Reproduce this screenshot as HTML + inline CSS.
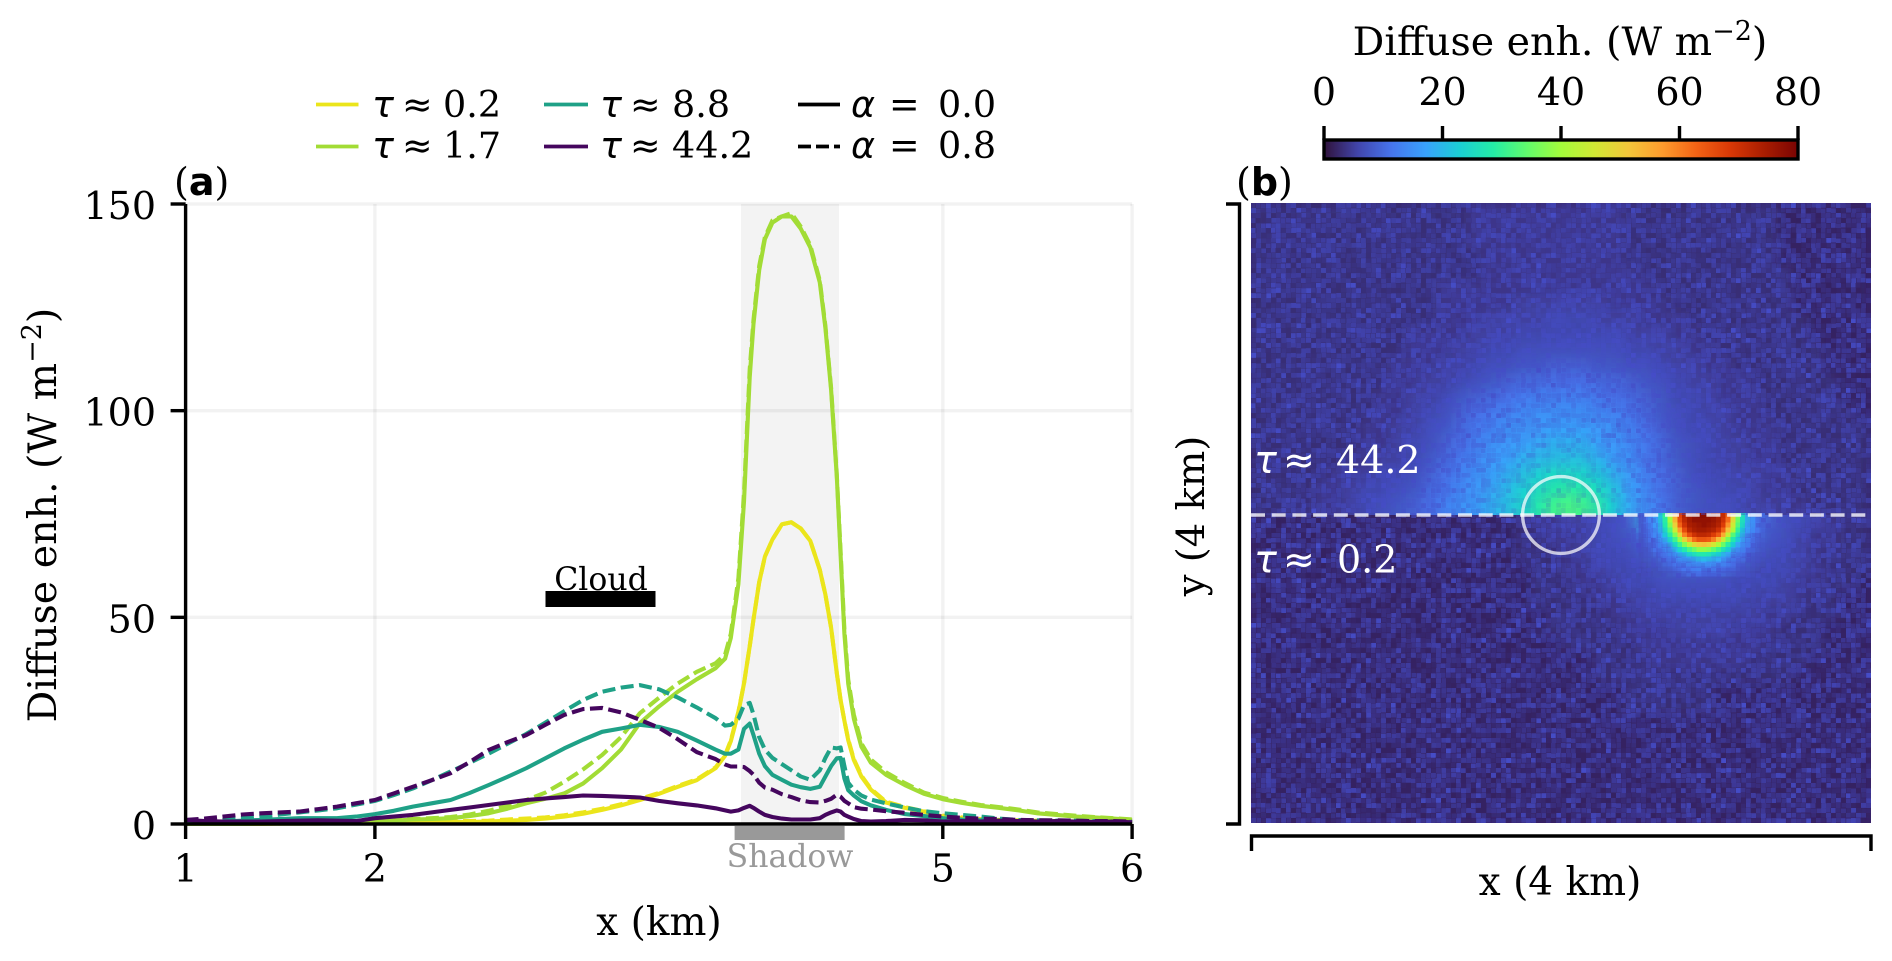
<!DOCTYPE html>
<html lang="en">
<head>
<meta charset="utf-8">
<title>Diffuse enhancement chart</title>
<style>
html,body{margin:0;padding:0;background:#fff;}
svg{display:block;}
text{font-family:"DejaVu Serif","Liberation Serif",serif;fill:#000;}
.math{font-family:"DejaVu Sans","Liberation Sans",sans-serif;font-style:italic;}
.sym{font-family:"DejaVu Sans","Liberation Sans",sans-serif;}
.bold{font-family:"DejaVu Sans","Liberation Sans",sans-serif;font-weight:bold;}
</style>
</head>
<body>
<svg id="chart" xmlns="http://www.w3.org/2000/svg" width="1892" height="961" viewBox="0 0 1892 961">
  <defs>
    <clipPath id="clip-upper"><rect x="1251" y="203" width="620" height="312"/></clipPath>
    <clipPath id="clip-lower"><rect x="1251" y="515" width="620" height="308"/></clipPath>
    <filter id="smooth" filterUnits="userSpaceOnUse" x="1200" y="150" width="720" height="730"><feGaussianBlur stdDeviation="6"/></filter>
    <filter id="grain" filterUnits="userSpaceOnUse" x="1251" y="203" width="620" height="620" primitiveUnits="userSpaceOnUse" color-interpolation-filters="sRGB">
      <feTurbulence type="fractalNoise" baseFrequency="0.73" numOctaves="2" seed="7" result="noise"/>
      <feColorMatrix in="noise" type="matrix" values="0 0 0 0 0.27  0 0 0 0 0.3  0 0 0 0 0.78  2.6 0 0 0 -1.2" result="tint"/>
      <feFlood x="1253" y="205" width="1" height="1" flood-color="#fff"/>
      <feComposite x="1251" y="203" width="5" height="5"/>
      <feTile x="1251" y="203" width="620" height="620" result="dots"/>
      <feComposite in="tint" in2="dots" operator="in"/>
      <feMorphology operator="dilate" radius="2"/>
    </filter>
    <radialGradient id="hole-gradient">
      <stop offset="0.72" stop-color="#000"/>
      <stop offset="1" stop-color="#000" stop-opacity="0"/>
    </radialGradient>
    <radialGradient id="glow-gradient">
      <stop offset="0.3" stop-color="#000" stop-opacity="0.7"/>
      <stop offset="1" stop-color="#000" stop-opacity="0"/>
    </radialGradient>
    <mask id="grain-mask" maskUnits="userSpaceOnUse" x="1251" y="203" width="620" height="620">
      <rect x="1251" y="203" width="620" height="620" fill="#fff"/>
      <g clip-path="url(#clip-lower)"><circle cx="1703" cy="515" r="56" fill="url(#hole-gradient)"/></g>
      <g clip-path="url(#clip-upper)"><circle cx="1561" cy="515" r="170" fill="url(#glow-gradient)"/></g>
    </mask>
    <linearGradient id="turbo-gradient" x1="0" x2="1" y1="0" y2="0"></linearGradient>
  </defs>

  <g id="panel-a">
    <rect x="741" y="204" width="98" height="620" fill="#f3f3f3"/>
    <g id="grid"></g>
    <g id="curves"></g>
    <rect x="545.5" y="591" width="110" height="16" fill="#000"/>
    <text x="601" y="590" font-size="31.5" text-anchor="middle">Cloud</text>
    <rect x="734.6" y="826" width="110" height="14" fill="#999"/>
    <text x="790" y="867" font-size="31.5" text-anchor="middle" style="fill:#999">Shadow</text>
    <g id="axes-a" stroke="#000" stroke-width="3.4"></g>
    <text x="659" y="935" font-size="39" text-anchor="middle">x (km)</text>
    <text font-size="39.5" text-anchor="middle" transform="translate(56,515) rotate(-90)">Diffuse enh. (W m<tspan font-size="27" dy="-15">−2</tspan><tspan dy="15">)</tspan></text>
    <text x="174" y="195" font-size="38">(<tspan class="bold">a</tspan>)</text>
  </g>

  <g id="legend">
    <g>
      <line x1="316" x2="358.5" y1="104.5" y2="104.5" stroke="#ebe51b" stroke-width="3.8"/>
      <text x="372" y="117" font-size="36.5"><tspan class="math">τ</tspan><tspan class="sym" x="402">≈</tspan><tspan x="443">0.2</tspan></text>
    </g>
    <g>
      <line x1="316" x2="358.5" y1="146.5" y2="146.5" stroke="#a2dc35" stroke-width="3.8"/>
      <text x="372" y="158" font-size="36.5"><tspan class="math">τ</tspan><tspan class="sym" x="402">≈</tspan><tspan x="443">1.7</tspan></text>
    </g>
    <g>
      <line x1="544" x2="588" y1="104.5" y2="104.5" stroke="#1fa187" stroke-width="3.8"/>
      <text x="600" y="117" font-size="36.5"><tspan class="math">τ</tspan><tspan class="sym" x="630">≈</tspan><tspan x="672">8.8</tspan></text>
    </g>
    <g>
      <line x1="544" x2="588" y1="146.5" y2="146.5" stroke="#45065e" stroke-width="3.8"/>
      <text x="600" y="158" font-size="36.5"><tspan class="math">τ</tspan><tspan class="sym" x="630">≈</tspan><tspan x="672">44.2</tspan></text>
    </g>
    <g>
      <line x1="798" x2="840" y1="104.5" y2="104.5" stroke="#000" stroke-width="3.8"/>
      <text x="851" y="117" font-size="36.5"><tspan class="math">α</tspan><tspan class="sym" x="889">=</tspan><tspan x="938">0.0</tspan></text>
    </g>
    <g>
      <line x1="798" x2="840" y1="146.5" y2="146.5" stroke="#000" stroke-width="3.8" stroke-dasharray="13 5"/>
      <text x="851" y="158" font-size="36.5"><tspan class="math">α</tspan><tspan class="sym" x="889">=</tspan><tspan x="938">0.8</tspan></text>
    </g>
  </g>

  <g id="panel-b">
    <rect x="1251" y="203" width="620" height="620" fill="#36226a"/>
    <g clip-path="url(#clip-upper)"><g id="heat-upper" filter="url(#smooth)"></g></g>
    <g clip-path="url(#clip-lower)"><g id="heat-lower" filter="url(#smooth)"></g></g>
    <g id="heat-hot" shape-rendering="crispEdges"></g>
    <g mask="url(#grain-mask)"><rect x="1251" y="203" width="620" height="620" fill="#fff" filter="url(#grain)"/></g>
    <line x1="1251" x2="1871" y1="515" y2="515" stroke="#fff" stroke-opacity="0.78" stroke-width="3.6" stroke-dasharray="14 6.7"/>
    <circle cx="1561" cy="515" r="38.4" fill="none" stroke="#fff" stroke-opacity="0.72" stroke-width="3.4"/>
    <text x="1254" y="473" font-size="38" style="fill:#fff"><tspan class="math" style="fill:#fff">τ</tspan><tspan class="sym" x="1283" style="fill:#fff">≈</tspan><tspan x="1336" style="fill:#fff">44.2</tspan></text>
    <text x="1254" y="572.5" font-size="38" style="fill:#fff"><tspan class="math" style="fill:#fff">τ</tspan><tspan class="sym" x="1283" style="fill:#fff">≈</tspan><tspan x="1337" style="fill:#fff">0.2</tspan></text>
    <path d="M1226 204H1239.5V824H1226" fill="none" stroke="#000" stroke-width="3.4"/>
    <path d="M1251.5 851V836H1871V851" fill="none" stroke="#000" stroke-width="3.4"/>
    <text x="1560" y="895" font-size="39" text-anchor="middle">x (4 km)</text>
    <text font-size="38.5" text-anchor="middle" transform="translate(1204,516) rotate(-90)">y (4 km)</text>
    <text x="1236" y="195" font-size="38">(<tspan class="bold">b</tspan>)</text>
  </g>

  <g id="colorbar">
    <rect x="1324" y="140" width="474" height="19" fill="url(#turbo-gradient)" stroke="#000" stroke-width="3.4"/>
    <g id="colorbar-ticks"></g>
    <text x="1560" y="55" font-size="39.5" text-anchor="middle">Diffuse enh. (W m<tspan font-size="27" dy="-15">−2</tspan><tspan dy="15">)</tspan></text>
  </g>
</svg>

<script>
// ---- chart data: line panel ----
const xKm = [
1.0,1.1,1.2,1.3,1.4,1.5,1.6,1.7,1.8,1.9,
2.0,2.1,2.2,2.3,2.4,2.5,2.6,2.7,2.8,2.9,
3.0,3.1,3.2,3.3,3.4,3.5,3.6,3.7,3.8,3.85,
3.88,3.92,3.95,3.98,4.0,4.03,4.06,4.1,4.15,4.2,
4.25,4.3,4.35,4.38,4.41,4.44,4.46,4.48,4.5,4.53,
4.57,4.62,4.7,4.8,4.9,5.0,5.1,5.2,5.3,5.4,
5.5,5.6,5.7,5.8,5.9,6.0];

const tau02Solid = [
0,0,0,0,0,0.1,0.1,0.1,0.2,0.2,
0.2,0.3,0.3,0.4,0.5,0.5,0.6,0.8,1.0,1.3,
1.8,2.5,3.4,4.5,5.8,7.3,9.0,10.6,13.5,16.5,
20,27,34,43,49.5,58.5,64.7,68.8,72.5,73,
71.5,68.5,61.5,55.5,47.5,36.5,30,25,20.3,15.5,
11.5,8.3,5.2,3.9,3,1.8,1.4,1.1,0.9,0.8,
0.7,0.6,0.5,0.5,0.4,0.4];

const tau02Dashed = [
0,0,0,0.1,0.1,0.1,0.2,0.2,0.3,0.3,
0.3,0.4,0.4,0.5,0.7,0.7,0.8,1.1,1.3,1.6,
2.1,2.8,3.7,4.8,6.1,7.5,9.2,10.8,13.7,16.7,
20.2,27.2,34,43,49.5,58.5,64.7,68.8,72.5,73,
71.5,68.5,61.5,55.5,47.5,36.5,30,25,20.5,15.7,
11.7,8.5,5.4,4.1,3.1,2,1.6,1.2,1.0,0.9,
0.8,0.7,0.6,0.5,0.5,0.4];

const tau17Solid = [
0,0,0,0,0.1,0.1,0.1,0.2,0.3,0.4,
0.5,0.8,1.1,1.2,1.4,1.9,2.6,3.7,5.0,6.1,
7.4,9.8,13.5,18.0,24.4,28.4,32,35,37.7,40,
45,58,78,108,121,134,141.5,145.5,147,147,
144,139.5,131,120,105,84,65,46,34,25.5,
18.7,14.8,11.9,9.4,7.3,6,5.1,4.4,3.9,3.3,
2.6,2.2,1.8,1.6,1.3,1.0];

const tau17Dashed = [
0,0,0.1,0.1,0.1,0.2,0.2,0.3,0.3,0.4,
0.5,0.8,1.2,1.4,1.7,2.3,3.2,4.4,5.8,7.6,
10.2,13.2,16.7,21,26.8,30.5,34,36.8,38.9,41,
46,59.5,80,110,122,135,142,146,147,147.8,
144.5,140,131.5,120.5,105.5,84.5,66,47,35,26.5,
19.5,15.6,12.5,9.9,7.6,6.3,5.4,4.6,4.1,3.5,
2.8,2.4,2.0,1.7,1.4,1.1];

const tau88Solid = [
0.3,0.4,0.6,0.8,1.0,1.2,1.4,1.4,1.4,1.8,
2.4,3.2,4.2,5.0,5.8,7.5,9.4,11.4,13.5,15.9,
18.3,20.4,22.3,23.1,24,23.5,22.3,20.2,18,17,
17,18,23,24.3,21.5,17,14,11.9,10.7,9.5,
8.9,8.5,9,11.5,14,15.9,16,11,8.2,6.9,
5.5,4.5,3.4,2.4,1.9,1.4,1.1,0.9,0.8,0.7,
0.6,0.6,0.5,0.5,0.4,0.3];

const tau88Dashed = [
0.4,0.6,1.0,1.4,1.8,2.3,2.8,3.3,3.8,4.7,
5.6,7.0,8.6,10.6,12.7,14.8,17,19.4,21.8,24.5,
27.3,30,32,33,33.6,32.6,30.6,28.2,25.6,23.8,
24,25.5,28.8,29.3,26.5,21,18,16,14.5,13,
11.5,10.7,13,16,18.5,18.3,18.5,14,10,8.3,
6.9,5.9,5,4,3.1,2.6,2.2,1.8,1.3,1,
0.9,0.8,0.8,0.7,0.6,0.5];

const tau442Solid = [
1.0,0.7,0.6,0.6,0.6,0.7,0.8,0.9,0.8,0.7,
1.4,1.8,2.2,2.8,3.4,4.0,4.6,5.2,5.8,6.2,
6.5,6.9,6.8,6.6,6.4,5.6,5,4.5,3.8,3.3,
3.0,3.3,3.9,4.4,3.9,3.0,2.2,1.7,1.3,1.1,
1.1,1.1,1.4,2.2,2.8,3.3,3.0,2.2,1.8,1.2,
0.7,0.6,0.7,1,0.9,0.6,0.7,0.6,0.8,0.7,
0.6,0.7,0.6,0.5,0.6,0.4];

const tau442Dashed = [
1.0,1.3,1.8,2.3,2.6,2.8,3.0,3.6,4.2,5.0,
5.8,7.4,9,10.6,12.3,15,17.9,19.8,21.5,24,
26.4,27.8,28.1,27,25.2,23.3,20.5,17.4,15.7,14.4,
13.9,13.9,13.8,12.8,11.9,10,8.8,8.3,7.2,6.5,
5.7,5.3,5.2,5.6,6.1,7.1,6.6,5.6,5,4.1,
3.7,3.5,3.1,2.7,2.2,1.8,1.5,1.3,1.2,1.0,
0.9,0.9,0.8,0.7,0.7,0.6];

const xTickValues = [1,2,5,6];
const yTickValues = [0,50,100,150];
const xGridValues = [2,5,6];
const yGridValues = [50,100,150];
const colorbarTickValues = [0,20,40,60,80];

// ---- chart data: heatmap (W m-2), coarse grid, 40 rows x 40 columns ----
const heatValues = [
[3,3,3,3,3,3,3,3,3,3, 3,3,3,3,4,4,4,4,4,4, 4,4,4,4,3,3,3,3,3,3, 3,3,3,3,2,2,2,2,2,2],
[3,3,3,3,3,3,3,3,3,3, 3,3,3,3,4,4,4,4,4,4, 4,4,4,4,3,3,3,3,3,3, 3,3,3,3,2,2,2,2,2,2],
[3,3,3,3,3,3,3,3,3,3, 3,3,3,3,4,4,4,4,4,4, 4,4,4,4,3,3,3,3,3,3, 3,3,3,3,2,2,2,2,2,2],
[3,3,3,3,3,3,3,3,3,3, 3,3,3,3,3,4,4,4,4,4, 4,4,4,4,3,3,3,3,3,3, 3,3,3,3,2,2,2,2,2,2],
[3,3,3,3,3,3,3,3,3,3, 3,3,3,3,3,4,4,4,4,4, 4,4,4,4,4,3,3,3,3,3, 3,3,3,3,3,2,2,2,2,2],
[3,3,3,3,3,3,3,3,3,3, 3,3,4,4,4,4,4,4,4,4, 4,4,4,4,4,4,3,3,3,3, 3,3,3,3,3,2,2,2,2,2],
[3,3,3,3,3,3,3,3,3,3, 3,3,4,4,4,4,4,5,5,5, 5,5,5,4,4,4,4,3,3,3, 3,3,3,3,3,2,2,2,2,2],
[3,3,3,3,3,3,3,3,3,3, 3,3,4,4,4,5,5,5,5,6, 6,6,5,5,5,4,4,4,3,3, 3,3,3,3,3,3,2,2,2,2],
[3,3,3,3,3,3,3,3,3,3, 4,4,4,4,5,5,5,6,6,6, 6,6,6,6,5,5,5,4,4,3, 3,3,3,3,3,3,2,2,2,2],
[3,3,3,3,3,3,3,3,3,3, 4,4,4,5,5,6,6,7,7,7, 7,7,7,7,6,6,5,5,4,4, 3,3,3,3,3,3,3,2,2,2],
[3,3,3,3,3,3,3,3,3,4, 4,4,5,5,6,7,7,8,8,9, 9,9,8,8,7,7,6,5,5,4, 4,3,3,3,3,3,3,2,2,2],
[3,3,3,3,3,3,3,3,3,4, 4,5,5,6,7,8,9,10,10,11, 11,11,10,10,9,8,7,6,5,5, 4,4,3,3,3,3,3,3,2,2],
[3,3,3,3,3,3,3,3,4,4, 5,5,6,8,9,10,11,12,13,13, 13,13,12,11,10,9,8,6,6,5, 4,4,4,3,3,3,3,3,2,2],
[3,3,3,3,3,3,3,3,4,4, 5,6,7,9,11,12,13,14,15,15, 15,15,14,13,12,10,8,7,6,5, 5,4,4,3,3,3,3,3,3,2],
[3,3,3,3,3,3,3,4,4,5, 5,7,8,10,12,13,15,16,16,17, 17,17,16,15,13,11,9,7,6,6, 5,4,4,4,3,3,3,3,3,3],
[3,3,3,3,3,3,3,4,4,5, 6,7,9,11,13,15,16,17,18,19, 19,19,17,16,14,12,10,8,7,6, 5,5,4,4,3,3,3,3,3,3],
[3,3,3,3,3,3,4,4,5,5, 6,8,10,12,14,16,17,19,20,21, 21,21,19,17,15,12,10,8,7,6, 5,5,4,4,3,3,3,3,3,3],
[3,3,3,3,3,4,4,5,6,6, 7,9,11,13,15,17,19,21,23,25, 25,24,22,19,16,13,11,9,7,6, 6,5,5,4,4,3,3,3,3,3],
[3,3,3,3,4,4,5,6,6,7, 8,10,12,14,16,18,20,23,26,28, 29,28,25,21,17,14,11,9,8,7, 6,6,5,4,4,3,3,3,3,3],
[3,3,3,3,4,4,5,6,7,8, 9,11,13,15,17,19,21,24,28,31, 32,31,28,22,18,15,12,9,8,7, 7,6,5,5,4,4,3,3,3,3],
[2,2,2,2,2,2,2,2,2,2, 2,2,2,2,2,2,2,3,4,4, 5,5,6,7,9,20,60,70,70,70, 60,20,11,9,7,6,5,4,3,3],
[2,2,2,2,2,2,2,2,2,2, 2,2,2,2,2,2,2,3,3,4, 4,5,6,7,8,12,30,40,50,40, 30,12,10,8,7,5,4,4,3,3],
[2,2,2,2,2,2,2,2,2,2, 2,2,2,2,2,2,2,3,3,3, 4,5,6,6,7,9,11,13,16,13, 11,9,8,7,6,5,4,3,3,3],
[2,2,2,2,2,2,2,2,2,2, 2,2,2,2,2,2,2,2,3,3, 4,4,5,6,6,7,8,9,9,9, 8,7,7,6,6,5,4,3,3,3],
[2,2,2,2,2,2,2,2,2,2, 2,2,2,2,2,2,2,2,3,3, 3,4,4,5,6,6,7,7,7,7, 7,6,6,6,5,4,4,3,3,2],
[2,2,2,2,2,2,2,2,2,2, 2,2,2,2,2,2,2,2,3,3, 3,3,4,4,5,5,6,6,6,6, 6,6,5,5,5,4,3,3,2,2],
[2,2,2,2,2,2,2,2,2,2, 2,2,2,2,2,2,2,2,2,3, 3,3,3,4,4,5,5,5,5,5, 5,5,5,4,4,3,3,3,2,2],
[2,2,2,2,2,2,2,2,2,2, 2,2,2,2,2,2,2,2,2,3, 3,3,3,3,4,4,4,5,5,5, 5,4,4,4,3,3,3,2,2,2],
[2,2,2,2,2,2,2,2,2,2, 2,2,2,2,2,2,2,2,2,2, 3,3,3,3,3,4,4,4,4,4, 4,4,4,3,3,3,3,2,2,2],
[2,2,2,2,2,2,2,2,2,2, 2,2,2,2,2,2,2,2,2,2, 2,2,3,3,3,3,4,4,4,4, 4,4,3,3,3,3,2,2,2,2],
[2,2,2,2,2,2,2,2,2,2, 2,2,2,2,2,2,2,2,2,2, 2,2,3,3,3,3,3,3,3,3, 3,3,3,3,3,2,2,2,2,2],
[2,2,2,2,2,2,2,2,2,2, 2,2,2,2,2,2,2,2,2,2, 2,2,2,2,3,3,3,3,3,3, 2,2,2,2,2,2,2,2,2,2],
[2,2,2,2,2,2,2,2,2,2, 2,2,2,2,2,2,2,2,2,2, 2,2,2,2,3,3,3,3,3,3, 2,2,2,2,2,2,2,2,2,2],
[2,2,2,2,2,2,2,2,2,2, 2,2,2,2,2,2,2,2,2,2, 2,2,2,2,2,2,2,2,2,2, 2,2,2,2,2,2,2,2,2,2],
[2,2,2,2,2,2,2,2,2,2, 2,2,2,2,2,2,2,2,2,2, 2,2,2,2,2,2,2,2,2,2, 2,2,2,2,2,2,2,2,2,2],
[2,2,2,2,2,2,2,2,2,2, 2,2,2,2,2,2,2,2,2,2, 2,2,2,2,2,2,2,2,2,2, 2,2,2,2,2,2,2,2,2,2],
[2,2,2,2,2,2,2,2,2,2, 2,2,2,2,2,2,2,2,2,2, 2,2,2,2,2,2,2,2,2,2, 2,2,2,2,2,2,2,2,2,2],
[2,2,2,2,2,2,2,2,2,2, 2,2,2,2,2,2,2,2,2,2, 2,2,2,2,2,2,2,2,2,2, 2,2,2,2,2,2,2,2,2,2],
[2,2,2,2,2,2,2,2,2,2, 2,2,2,2,2,2,2,2,2,2, 2,2,2,2,2,2,2,2,2,2, 2,2,2,2,2,2,2,2,2,2],
[2,2,2,2,2,2,2,2,2,2, 2,2,2,2,2,2,2,2,2,2, 2,2,2,2,2,2,2,2,2,2, 2,2,2,2,2,2,2,2,2,2]
];

// fine cells of the bright half-disc below the divider, 13 rows x 26 columns
const hotValues = [
[9.5,11.5,13.5,17,22,30,41,55,67,73,75,77,78,78,77,77,74,71,63,49,36,26,19,15,12.5,10.5],
[9.3,11.4,13.4,17,21,29,40,54,66,72,75,77,77,77,77,76,74,70,62,48,35,26,19,15,12,10.5],
[9,11,13,16,20,28,37,50,63,70,74,75,76,77,76,75,73,68,58,45,33,25,18,15,12,10],
[9,10.5,12.5,15,19,25,33,45,57,66,72,74,75,75,74,73,70,63,52,41,30,22,17,14,11.5,10],
[8.5,10,12,14,17,22,29,37,49,60,66,70,72,72,71,68,64,55,44,33,26,20,16,13,11,9.3],
[8,9.3,11,13,16,19,24,31,39,49,56,62,65,65,64,60,53,45,36,28,22,18,14,12,10,9],
[8,9,10,12,14,17,20,25,31,37,43,48,51,52,50,46,41,35,29,23,18,15,13,11,9.5,8.5],
[7.5,8,9.5,11,12.5,14.5,17,20,24,28,32,35,38,38,37,34,31,27,23,19,15.5,13.5,11.5,10,9,8],
[7,8,8.5,9.5,11,12.5,14.5,16.5,19,21,24,26,28,28,27,25,23,20,18,15.5,13.5,12,10.5,9,8,7.5],
[7,7.5,8,8.5,9.5,11,12,13.5,15.5,17,18,19,20,20,20,19,18,16.5,15,13,11.5,10,9,8,7.5,7],
[6.5,7,7.5,8,8.5,9.5,10.5,12,13,13.5,14.5,15.5,16,16,15.5,15.5,14,13.5,12.5,11,10,9,8,7.5,7,6.5],
[6,6.5,7,7,8,8.5,9,10,11,11.5,12,12.5,13,13,13,12.5,12,11,10.5,10,9,8,7.5,7,6.5,6],
[6,6,6.5,7,7,7.5,8,8.5,9,9.5,10,10.5,11,11,10.5,10.5,10,9.5,9,8.5,8,7.5,7,6.5,6,6]
];

const turboStops = ['#30123b','#4145ab','#4675ed','#39a2fc','#1bcfd4','#24eca6','#61fc6c','#a4fc3b','#d1e834','#f3c63a','#fe9b2d','#f36315','#d93806','#a81d01','#7a0403'];

// ---- axis functions ----
const SVGNS = 'http://www.w3.org/2000/svg';
const xLeft = 185.6, kmWidth = 189.3, yZero = 824, unitHeight = 4.1333;
function xScale(km){ return xLeft + (km - 1) * kmWidth; }
function yScale(v){ return yZero - v * unitHeight; }
const cbarLeft = 1324, cbarWidth = 474;
function cbarScale(v){ return cbarLeft + v / 80 * cbarWidth; }
function hexToRgb(h){ return [parseInt(h.slice(1,3),16),parseInt(h.slice(3,5),16),parseInt(h.slice(5,7),16)]; }
function turbo(v){
  const t = Math.max(0, Math.min(1, v / 80)) * (turboStops.length - 1);
  const i = Math.min(Math.floor(t), turboStops.length - 2);
  const a = hexToRgb(turboStops[i]), b = hexToRgb(turboStops[i + 1]), f = t - i;
  return 'rgb(' + a.map(function(c, k){ return Math.round(c + (b[k] - c) * f); }).join(',') + ')';
}
function make(tag, attrs, text){
  const el = document.createElementNS(SVGNS, tag);
  for (const k in attrs) el.setAttribute(k, attrs[k]);
  if (text !== undefined) el.textContent = text;
  return el;
}

// gradient for the colorbar
const gradient = document.getElementById('turbo-gradient');
turboStops.forEach(function(c, i){
  gradient.appendChild(make('stop', {offset: (i / (turboStops.length - 1)), 'stop-color': c}));
});

// grid lines
const gridGroup = document.getElementById('grid');
xGridValues.forEach(function(v){
  const l = make('line', {x1: xScale(v), x2: xScale(v), y1: yScale(150), y2: yZero, stroke: '#000', 'stroke-opacity': 0.05, 'stroke-width': 3.4});
  
  
  gridGroup.appendChild(l);
});
yGridValues.forEach(function(v){
  const l = make('line', {x1: xLeft, x2: xScale(6), y1: yScale(v), y2: yScale(v), stroke: '#000', 'stroke-opacity': 0.05, 'stroke-width': 3.4});
  
  
  gridGroup.appendChild(l);
});

// curves
const seriesList = [
  {name: 'curve-tau-0.2-alpha-0.8', values: tau02Dashed, color: '#ebe51b', dash: '13 5.5'},
  {name: 'curve-tau-0.2-alpha-0.0', values: tau02Solid, color: '#ebe51b', dash: ''},
  {name: 'curve-tau-1.7-alpha-0.8', values: tau17Dashed, color: '#a2dc35', dash: '13 5.5'},
  {name: 'curve-tau-1.7-alpha-0.0', values: tau17Solid, color: '#a2dc35', dash: ''},
  {name: 'curve-tau-8.8-alpha-0.8', values: tau88Dashed, color: '#1fa187', dash: '13 5.5'},
  {name: 'curve-tau-8.8-alpha-0.0', values: tau88Solid, color: '#1fa187', dash: ''},
  {name: 'curve-tau-44.2-alpha-0.8', values: tau442Dashed, color: '#45065e', dash: '13 5.5'},
  {name: 'curve-tau-44.2-alpha-0.0', values: tau442Solid, color: '#45065e', dash: ''}
];
const curveGroup = document.getElementById('curves');
seriesList.forEach(function(s){
  const pts = s.values.map(function(v, i){ return xScale(xKm[i]).toFixed(1) + ',' + yScale(v).toFixed(1); }).join(' ');
  const p = make('polyline', {points: pts, fill: 'none', stroke: s.color, 'stroke-width': 4.1, 'stroke-linejoin': 'round'});
  if (s.dash) p.setAttribute('stroke-dasharray', s.dash);
  
  
  curveGroup.appendChild(p);
});

// axes for the line panel
const axesGroup = document.getElementById('axes-a');
const leftSpine = make('line', {x1: xLeft, x2: xLeft, y1: yScale(150), y2: yZero});


axesGroup.appendChild(leftSpine);
const bottomSpine = make('line', {x1: xLeft, x2: xScale(6), y1: yZero, y2: yZero});


axesGroup.appendChild(bottomSpine);
xTickValues.forEach(function(v){
  const t = make('line', {x1: xScale(v), x2: xScale(v), y1: yZero, y2: yZero + 15});
  
  
  axesGroup.appendChild(t);
  const lab = make('text', {x: xScale(v), y: 881.5, 'font-size': 38, 'text-anchor': 'middle', stroke: 'none'}, String(v));
  
  
  axesGroup.appendChild(lab);
});
yTickValues.forEach(function(v){
  const t = make('line', {x1: xLeft - 15, x2: xLeft, y1: yScale(v), y2: yScale(v)});
  
  
  axesGroup.appendChild(t);
  const lab = make('text', {x: 156, y: yScale(v) + 15, 'font-size': 38, 'text-anchor': 'end', stroke: 'none'}, String(v));
  
  
  axesGroup.appendChild(lab);
});

// heatmap cells
const heatLeft = 1251, heatTop = 203, heatSize = 620, extend = 30;
const heatUpper = document.getElementById('heat-upper');
const heatLower = document.getElementById('heat-lower');
const heatRows = heatValues.length;
const cellSize = heatSize / heatRows;
heatValues.forEach(function(row, r){
  row.forEach(function(v, c){
    let y = heatTop + r * cellSize, h = cellSize + 0.5;
    if (r === heatRows / 2 - 1) h += extend;
    if (r === heatRows / 2) { y -= extend; h += extend; }
    const cell = make('rect', {x: heatLeft + c * cellSize, y: y, width: cellSize + 0.5, height: h, fill: turbo(v)});
    
    
    (r < heatRows / 2 ? heatUpper : heatLower).appendChild(cell);
  });
});

const hotGroup = document.getElementById('heat-hot');
const fineSize = heatSize / 128, hotFirstCol = 80, hotFirstRow = 64;
hotValues.forEach(function(row, j){
  row.forEach(function(v, i){
    const cell = make('rect', {
      x: heatLeft + (hotFirstCol + i) * fineSize,
      y: heatTop + (hotFirstRow + j) * fineSize,
      width: fineSize + 0.4, height: fineSize + 0.4, fill: turbo(v)});
    
    
    hotGroup.appendChild(cell);
  });
});

// colorbar ticks
const cbTicks = document.getElementById('colorbar-ticks');
colorbarTickValues.forEach(function(v){
  const t = make('line', {x1: cbarScale(v), x2: cbarScale(v), y1: 126, y2: 140, stroke: '#000', 'stroke-width': 3.4});
  
  
  cbTicks.appendChild(t);
  const lab = make('text', {x: cbarScale(v), y: 105, 'font-size': 38, 'text-anchor': 'middle'}, String(v));
  
  
  cbTicks.appendChild(lab);
});
</script>
</body>
</html>
